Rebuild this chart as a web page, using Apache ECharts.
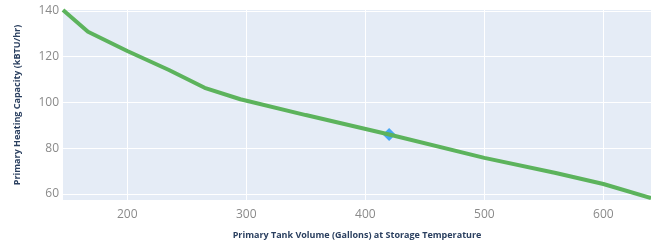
<!doctype html>
<html>
<head>
	<meta charset="UTF-8">
	<title>Primary Heating Capacity</title>
	<script src="https://cdn.jsdelivr.net/npm/echarts@6/dist/echarts.min.js"></script>
	<style>
		html, body { margin: 0; padding: 0; background: #fff; }
		#chart { width: 651px; height: 245px; }
	</style>
</head>
<body>
<div id="chart"></div>
<script>
	// curve
	var volume = [146, 167, 200, 235, 265, 295, 350, 420, 500, 560, 600, 640];
	var capacity = [140.4, 130.9, 122.5, 114.2, 106.4, 101.4, 94.5, 86.0, 75.8, 69.2, 64.4, 58.2];
	// selected point
	var pickVolume = [420];
	var pickCapacity = [86];
	var xTicks = [200, 300, 400, 500, 600];
	var yTicks = [60, 80, 100, 120, 140];

	var line = volume.map(function (v, i) { return [v, capacity[i]]; });
	var pick = pickVolume.map(function (v, i) { return [v, pickCapacity[i]]; });

	var tickFont = { color: '#8a8a8a', fontSize: 12, fontFamily: 'Open Sans' };
	var titleFont = { color: '#2a3f5f', fontSize: 9, fontWeight: 'bold', fontFamily: 'Open Sans' };

	var chart = echarts.init(document.getElementById('chart'));
	chart.setOption({
		animation: false,
		grid: {
			left: 63, right: 0, top: 10, bottom: 43,
			show: true, backgroundColor: '#e5ecf6', borderWidth: 0
		},
		xAxis: {
			type: 'value',
			min: 146, max: 640,
			name: 'Primary Tank Volume (Gallons) at Storage Temperature',
			nameLocation: 'middle', nameGap: 31, nameTextStyle: titleFont,
			axisLine: { show: false },
			axisTick: { show: false, customValues: xTicks },
			axisLabel: Object.assign({ customValues: xTicks, margin: 9 }, tickFont),
			splitLine: { show: true, lineStyle: { color: '#fff', width: 1 } }
		},
		yAxis: {
			type: 'value',
			min: 57.4, max: 140.4,
			name: 'Primary Heating Capacity (kBTU/hr)',
			nameLocation: 'middle', nameGap: 41, nameTextStyle: titleFont,
			axisLine: { show: false },
			axisTick: { show: false, customValues: yTicks },
			axisLabel: Object.assign({ customValues: yTicks, margin: 4 }, tickFont),
			splitLine: { show: true, lineStyle: { color: '#fff', width: 1 } }
		},
		series: [{
			type: 'line',
			data: line,
			showSymbol: false,
			lineStyle: { color: '#5cb35c', width: 4 },
			itemStyle: { color: '#5cb35c' }
		}, {
			type: 'scatter',
			data: pick,
			symbol: 'diamond',
			symbolSize: 13,
			itemStyle: { color: '#2196f3' }
		}]
	});
</script>
</body>
</html>
